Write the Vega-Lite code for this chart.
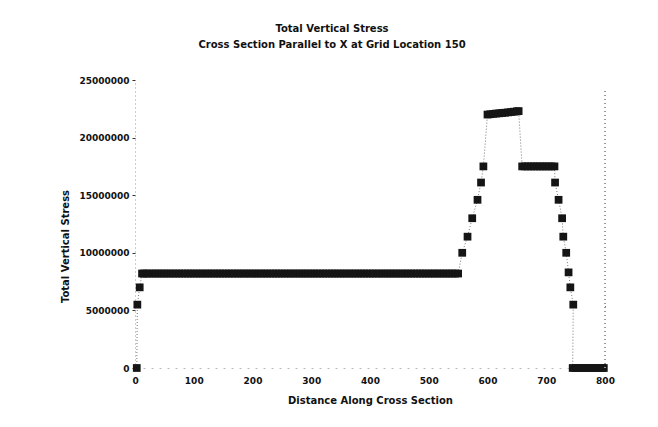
{
  "$schema": "https://vega.github.io/schema/vega-lite/v6.json",
  "width": 470,
  "height": 288,
  "autosize": {"type": "none"},
  "padding": {"left": 135, "top": 80, "right": 53, "bottom": 59},
  "background": "white",
  "title": {
    "text": ["Total Vertical Stress", "Cross Section Parallel to X at Grid Location 150"],
    "font": "DejaVu Sans",
    "fontSize": 10,
    "fontWeight": "bold",
    "color": "#111",
    "anchor": "middle",
    "dx": -38,
    "offset": 26,
    "lineHeight": 16
  },
  "data": {
    "values": [
      {"i": 1, "d": 3, "s": 0},
      {"i": 2, "d": 4, "s": 5500000},
      {"i": 3, "d": 8, "s": 7000000},
      {"i": 4, "d": 12, "s": 8200000},
      {"i": 5, "d": 15, "s": 8200000},
      {"i": 6, "d": 20, "s": 8200000},
      {"i": 7, "d": 25, "s": 8200000},
      {"i": 8, "d": 30, "s": 8200000},
      {"i": 9, "d": 35, "s": 8200000},
      {"i": 10, "d": 40, "s": 8200000},
      {"i": 11, "d": 45, "s": 8200000},
      {"i": 12, "d": 50, "s": 8200000},
      {"i": 13, "d": 55, "s": 8200000},
      {"i": 14, "d": 60, "s": 8200000},
      {"i": 15, "d": 65, "s": 8200000},
      {"i": 16, "d": 70, "s": 8200000},
      {"i": 17, "d": 75, "s": 8200000},
      {"i": 18, "d": 80, "s": 8200000},
      {"i": 19, "d": 85, "s": 8200000},
      {"i": 20, "d": 90, "s": 8200000},
      {"i": 21, "d": 95, "s": 8200000},
      {"i": 22, "d": 100, "s": 8200000},
      {"i": 23, "d": 105, "s": 8200000},
      {"i": 24, "d": 110, "s": 8200000},
      {"i": 25, "d": 115, "s": 8200000},
      {"i": 26, "d": 120, "s": 8200000},
      {"i": 27, "d": 125, "s": 8200000},
      {"i": 28, "d": 130, "s": 8200000},
      {"i": 29, "d": 135, "s": 8200000},
      {"i": 30, "d": 140, "s": 8200000},
      {"i": 31, "d": 145, "s": 8200000},
      {"i": 32, "d": 150, "s": 8200000},
      {"i": 33, "d": 155, "s": 8200000},
      {"i": 34, "d": 160, "s": 8200000},
      {"i": 35, "d": 165, "s": 8200000},
      {"i": 36, "d": 170, "s": 8200000},
      {"i": 37, "d": 175, "s": 8200000},
      {"i": 38, "d": 180, "s": 8200000},
      {"i": 39, "d": 185, "s": 8200000},
      {"i": 40, "d": 190, "s": 8200000},
      {"i": 41, "d": 195, "s": 8200000},
      {"i": 42, "d": 200, "s": 8200000},
      {"i": 43, "d": 205, "s": 8200000},
      {"i": 44, "d": 210, "s": 8200000},
      {"i": 45, "d": 215, "s": 8200000},
      {"i": 46, "d": 220, "s": 8200000},
      {"i": 47, "d": 225, "s": 8200000},
      {"i": 48, "d": 230, "s": 8200000},
      {"i": 49, "d": 235, "s": 8200000},
      {"i": 50, "d": 240, "s": 8200000},
      {"i": 51, "d": 245, "s": 8200000},
      {"i": 52, "d": 250, "s": 8200000},
      {"i": 53, "d": 255, "s": 8200000},
      {"i": 54, "d": 260, "s": 8200000},
      {"i": 55, "d": 265, "s": 8200000},
      {"i": 56, "d": 270, "s": 8200000},
      {"i": 57, "d": 275, "s": 8200000},
      {"i": 58, "d": 280, "s": 8200000},
      {"i": 59, "d": 285, "s": 8200000},
      {"i": 60, "d": 290, "s": 8200000},
      {"i": 61, "d": 295, "s": 8200000},
      {"i": 62, "d": 300, "s": 8200000},
      {"i": 63, "d": 305, "s": 8200000},
      {"i": 64, "d": 310, "s": 8200000},
      {"i": 65, "d": 315, "s": 8200000},
      {"i": 66, "d": 320, "s": 8200000},
      {"i": 67, "d": 325, "s": 8200000},
      {"i": 68, "d": 330, "s": 8200000},
      {"i": 69, "d": 335, "s": 8200000},
      {"i": 70, "d": 340, "s": 8200000},
      {"i": 71, "d": 345, "s": 8200000},
      {"i": 72, "d": 350, "s": 8200000},
      {"i": 73, "d": 355, "s": 8200000},
      {"i": 74, "d": 360, "s": 8200000},
      {"i": 75, "d": 365, "s": 8200000},
      {"i": 76, "d": 370, "s": 8200000},
      {"i": 77, "d": 375, "s": 8200000},
      {"i": 78, "d": 380, "s": 8200000},
      {"i": 79, "d": 385, "s": 8200000},
      {"i": 80, "d": 390, "s": 8200000},
      {"i": 81, "d": 395, "s": 8200000},
      {"i": 82, "d": 400, "s": 8200000},
      {"i": 83, "d": 405, "s": 8200000},
      {"i": 84, "d": 410, "s": 8200000},
      {"i": 85, "d": 415, "s": 8200000},
      {"i": 86, "d": 420, "s": 8200000},
      {"i": 87, "d": 425, "s": 8200000},
      {"i": 88, "d": 430, "s": 8200000},
      {"i": 89, "d": 435, "s": 8200000},
      {"i": 90, "d": 440, "s": 8200000},
      {"i": 91, "d": 445, "s": 8200000},
      {"i": 92, "d": 450, "s": 8200000},
      {"i": 93, "d": 455, "s": 8200000},
      {"i": 94, "d": 460, "s": 8200000},
      {"i": 95, "d": 465, "s": 8200000},
      {"i": 96, "d": 470, "s": 8200000},
      {"i": 97, "d": 475, "s": 8200000},
      {"i": 98, "d": 480, "s": 8200000},
      {"i": 99, "d": 485, "s": 8200000},
      {"i": 100, "d": 490, "s": 8200000},
      {"i": 101, "d": 495, "s": 8200000},
      {"i": 102, "d": 500, "s": 8200000},
      {"i": 103, "d": 505, "s": 8200000},
      {"i": 104, "d": 510, "s": 8200000},
      {"i": 105, "d": 515, "s": 8200000},
      {"i": 106, "d": 520, "s": 8200000},
      {"i": 107, "d": 525, "s": 8200000},
      {"i": 108, "d": 530, "s": 8200000},
      {"i": 109, "d": 535, "s": 8200000},
      {"i": 110, "d": 540, "s": 8200000},
      {"i": 111, "d": 545, "s": 8200000},
      {"i": 112, "d": 550, "s": 8200000},
      {"i": 113, "d": 557, "s": 10000000},
      {"i": 114, "d": 566, "s": 11400000},
      {"i": 115, "d": 574, "s": 13000000},
      {"i": 116, "d": 583, "s": 14600000},
      {"i": 117, "d": 589, "s": 16100000},
      {"i": 118, "d": 593, "s": 17500000},
      {"i": 119, "d": 600, "s": 22000000},
      {"i": 120, "d": 605, "s": 22030000},
      {"i": 121, "d": 610, "s": 22060000},
      {"i": 122, "d": 615, "s": 22090000},
      {"i": 123, "d": 620, "s": 22110000},
      {"i": 124, "d": 625, "s": 22140000},
      {"i": 125, "d": 630, "s": 22160000},
      {"i": 126, "d": 635, "s": 22190000},
      {"i": 127, "d": 640, "s": 22220000},
      {"i": 128, "d": 645, "s": 22250000},
      {"i": 129, "d": 650, "s": 22280000},
      {"i": 130, "d": 653, "s": 22300000},
      {"i": 131, "d": 659, "s": 17500000},
      {"i": 132, "d": 664, "s": 17500000},
      {"i": 133, "d": 669, "s": 17500000},
      {"i": 134, "d": 674, "s": 17500000},
      {"i": 135, "d": 679, "s": 17500000},
      {"i": 136, "d": 684, "s": 17500000},
      {"i": 137, "d": 689, "s": 17500000},
      {"i": 138, "d": 694, "s": 17500000},
      {"i": 139, "d": 699, "s": 17500000},
      {"i": 140, "d": 704, "s": 17500000},
      {"i": 141, "d": 709, "s": 17500000},
      {"i": 142, "d": 714, "s": 17500000},
      {"i": 143, "d": 715, "s": 16100000},
      {"i": 144, "d": 721, "s": 14600000},
      {"i": 145, "d": 727, "s": 13000000},
      {"i": 146, "d": 729, "s": 11400000},
      {"i": 147, "d": 734, "s": 10000000},
      {"i": 148, "d": 738, "s": 8300000},
      {"i": 149, "d": 741, "s": 7000000},
      {"i": 150, "d": 746, "s": 5500000},
      {"i": 151, "d": 745, "s": 0},
      {"i": 152, "d": 750, "s": 0},
      {"i": 153, "d": 755, "s": 0},
      {"i": 154, "d": 760, "s": 0},
      {"i": 155, "d": 765, "s": 0},
      {"i": 156, "d": 770, "s": 0},
      {"i": 157, "d": 775, "s": 0},
      {"i": 158, "d": 780, "s": 0},
      {"i": 159, "d": 785, "s": 0},
      {"i": 160, "d": 790, "s": 0},
      {"i": 161, "d": 795, "s": 0},
      {"i": 162, "d": 798, "s": 0}
    ]
  },
  "encoding": {
    "x": {
      "field": "d",
      "type": "quantitative",
      "scale": {"domain": [0, 800], "nice": false, "zero": false},
      "axis": {
        "title": "Distance Along Cross Section",
        "values": [0, 100, 200, 300, 400, 500, 600, 700, 800],
        "labelFlush": false,
        "grid": false,
        "domainColor": "#bbb",
        "domainDash": [2, 6],
        "ticks": false,
        "labelPadding": 8,
        "titlePadding": 10,
        "labelFont": "DejaVu Sans",
        "labelFontSize": 9,
        "labelFontWeight": "bold",
        "labelColor": "#111",
        "titleFont": "DejaVu Sans",
        "titleFontSize": 10,
        "titleFontWeight": "bold",
        "titleColor": "#111"
      }
    },
    "y": {
      "field": "s",
      "type": "quantitative",
      "scale": {"domain": [0, 25000000], "nice": false},
      "axis": {
        "title": "Total Vertical Stress",
        "values": [0, 5000000, 10000000, 15000000, 20000000, 25000000],
        "format": "d",
        "labelFlush": false,
        "grid": false,
        "domainColor": "#999",
        "domainDash": [1, 3],
        "tickColor": "#333",
        "tickSize": 3,
        "labelPadding": 3,
        "titlePadding": 8,
        "titleY": 166,
        "labelFont": "DejaVu Sans",
        "labelFontSize": 9,
        "labelFontWeight": "bold",
        "labelColor": "#111",
        "titleFont": "DejaVu Sans",
        "titleFontSize": 10,
        "titleFontWeight": "bold",
        "titleColor": "#111"
      }
    }
  },
  "layer": [
    {
      "mark": {"type": "line", "color": "#777", "strokeWidth": 1, "strokeDash": [1, 2]},
      "encoding": {"order": {"field": "i", "type": "quantitative"}}
    },
    {
      "mark": {"type": "point", "shape": "square", "filled": true, "size": 60, "color": "#151515", "opacity": 1}
    },
    {
      "mark": {"type": "rule", "color": "#999", "strokeDash": [1, 3], "strokeWidth": 1},
      "encoding": {
        "x": {"datum": 800},
        "y": {"datum": 0},
        "y2": {"datum": 24000000}
      }
    }
  ],
  "config": {"view": {"stroke": null}}
}
